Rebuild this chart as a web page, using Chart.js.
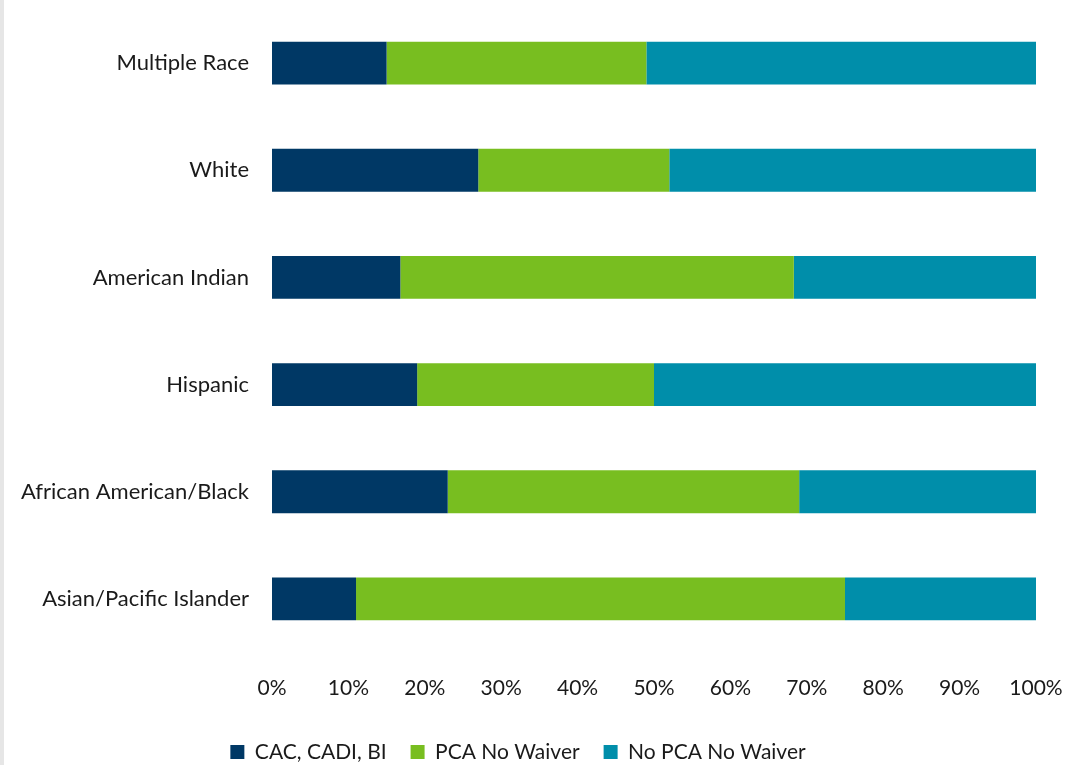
<!DOCTYPE html>
<html>
<head>
<meta charset="utf-8">
<script src="https://cdn.jsdelivr.net/npm/chart.js@4"></script>
<style>
  html, body { margin: 0; padding: 0; background: #fff; }
  #wrap { position: relative; width: 1089px; height: 765px; }
  #strip { position: absolute; left: 0; top: 0; width: 4px; height: 765px; background: #e6e6e6; }
  canvas { position: absolute; left: 0; top: 0; }
</style>
</head>
<body>
<div id="wrap">
  <canvas id="c" width="1089" height="765"></canvas>
  <div id="strip"></div>
</div>
<script>
const categories = ["Multiple Race", "White", "American Indian", "Hispanic", "African American/Black", "Asian/Pacific Islander"];
const cacValues = [15, 27, 16.8, 19, 23, 11];
const pcaValues = [34, 25, 51.5, 31, 46, 64];
const noPcaValues = [51, 48, 31.7, 50, 31, 25];
const seriesNames = ["CAC, CADI, BI", "PCA No Waiver", "No PCA No Waiver"];
const seriesColors = ["#003865", "#78BE20", "#008EAA"];
const xTicks = [0, 10, 20, 30, 40, 50, 60, 70, 80, 90, 100];

const FONT = "Lato, 'Open Sans', sans-serif";
Chart.defaults.font.family = FONT;
Chart.defaults.font.size = 21;
Chart.defaults.color = "#1a1a1a";

new Chart(document.getElementById("c"), {
  type: "bar",
  data: {
    labels: categories,
    datasets: [cacValues, pcaValues, noPcaValues].map((d, i) => ({
      label: seriesNames[i],
      data: d,
      backgroundColor: seriesColors[i],
      borderWidth: 0,
      barPercentage: 0.8,
      categoryPercentage: 0.5
    }))
  },
  options: {
    indexAxis: "y",
    responsive: false,
    animation: false,
    layout: { padding: { left: 0, right: 53, top: 9.5, bottom: -7.5 } },
    scales: {
      x: {
        stacked: true,
        min: 0, max: 100,
        afterBuildTicks: (s) => { s.ticks = xTicks.map(v => ({ value: v })); },
        grid: { display: false, drawTicks: false },
        border: { display: false },
        ticks: { padding: 23, maxRotation: 0, font: { size: 21 }, callback: (v) => v + "%" },
        afterFit: (s) => { s.height = 65; }
      },
      y: {
        stacked: true,
        grid: { display: false, drawTicks: false },
        border: { display: false },
        ticks: { padding: 23, font: { size: 22 } },
        afterFit: (s) => { s.width = 272; s.paddingTop = 0; s.paddingBottom = 0; }
      }
    },
    plugins: {
      legend: {
        position: "bottom",
        labels: { boxWidth: 14, boxHeight: 14, padding: 24, color: "#1a1a1a", font: { size: 21 } }
      },
      tooltip: { enabled: false }
    }
  }
});
</script>
</body>
</html>
